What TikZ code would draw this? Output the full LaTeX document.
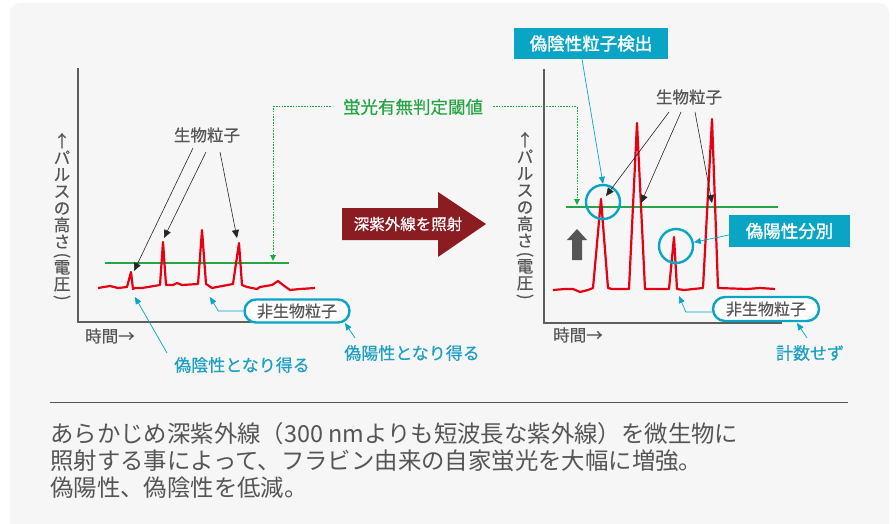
\documentclass[tikz,border=0pt]{standalone}
\usepackage{graphicx}
\usepackage{fontspec}
\newfontfamily\jp{Noto Sans CJK JP}
\newfontfamily\jpm[FakeBold=0.5]{Noto Sans CJK JP}
\newfontfamily\jpb[FakeBold=1.6]{Noto Sans CJK JP}
\usetikzlibrary{arrows.meta,calc}
\definecolor{bgc}{HTML}{F6F6F6}
\definecolor{cy}{HTML}{0AA5C5}
\definecolor{cyt}{HTML}{1EA0C3}
\definecolor{rd}{HTML}{E60012}
\definecolor{gn}{HTML}{26A546}
\definecolor{gnd}{HTML}{12B03C}
\definecolor{dr}{HTML}{8A1C22}
\definecolor{gy}{HTML}{555555}
\definecolor{ax}{HTML}{5E5E5E}
\newcommand\jpsz[1]{\fontsize{#1}{#1}\selectfont}
\newcommand\vparL{\rotatebox[origin=c]{-90}{(}}
\newcommand\vparR{\rotatebox[origin=c]{-90}{)}}
\begin{document}
\begin{tikzpicture}[x=1pt,y=-1pt,
 lbl/.style={font=\jpm\jpsz{16.5}, text=gy, inner sep=0},
 vlbl/.style={font=\jpm\fontsize{16.5}{16.8}\selectfont, text=gy, inner sep=0, align=center},
 cylbl/.style={font=\jpm\jpsz{17}, text=cyt, inner sep=0},
 cybox/.style={fill=cy, text=white, font=\jpb\jpsz{17.5}, inner sep=0},
 pillbox/.style={draw=cy, line width=2.4pt, fill=white, rounded corners=11.5pt, minimum width=105pt, minimum height=23pt, inner sep=0, font=\jpm\jpsz{16}, text=gy},
 ring/.style={circle, draw=cy, line width=2.4pt, minimum size=34pt, inner sep=0},
 blkarr/.style={draw=black!85, line width=0.6pt, -{Triangle[length=8pt,width=7pt]}},
 cyarr/.style={draw=cy, line width=0.7pt, -{Triangle[length=7pt,width=6pt]}},
 gnarr/.style={draw=gnd, line width=1pt, dash pattern=on 1.6pt off 1.2pt, -{Triangle[length=6pt,width=5.5pt]}},
 axis/.style={draw=ax, line width=1.4pt},
 sig/.style={draw=rd, line width=2.2pt, line join=round},
 thr/.style={draw=gn, line width=2pt},
 desc/.style={font=\jp\jpsz{23.4}, text=gy, anchor=base west, inner sep=0},
]
\useasboundingbox (0,0) rectangle (896,524);
\fill[white] (0,0) rectangle (896,524);
\begin{scope}
\clip (0,0) rectangle (896,524);
\fill[bgc, rounded corners=10pt] (10,3) rectangle (889,545);
\end{scope}

% ---------- left chart ----------
\draw[axis] (78,68) -- (78,322) -- (317,322);
\node[vlbl] (Ly) at (62,218) {↑\\パ\\ル\\ス\\の\\高\\さ\\[-4pt]\vparL\\[-4pt]電\\圧\\[-4pt]\vparR};
\node[lbl, anchor=west] (Lt) at (85,336) {時間→};
\draw[thr] (105,263) -- (289,263);
\draw[sig] (98,288) -- (110,286) -- (118,288) -- (127,287) -- (131,272) -- (133,289) -- (135,288) -- (142,288)
 -- (160,285) -- (163,242) -- (166,285) -- (173,285) -- (177,283) -- (182,285) -- (198,284) -- (202,230)
 -- (206,284) -- (212,288) -- (217,287) -- (233,284) -- (239,243) -- (242,285) -- (247,287) -- (257,289)
 -- (260,287) -- (272,285) -- (278,281) -- (283,285) -- (290,290) -- (300,289) -- (315,288);
\node[lbl] (Lbio) at (207,135) {生物粒子};
\coordinate (la1) at (193,148); \coordinate (lb1) at (134,271);
\coordinate (la2) at (206,152); \coordinate (lb2) at (164,238);
\coordinate (la3) at (220,152); \coordinate (lb3) at (237,238);
\draw[blkarr] (la1) -- (lb1);
\draw[blkarr] (la2) -- (lb2);
\draw[blkarr] (la3) -- (lb3);
\node[pillbox] (Lnb) at (297,311) {非生物粒子};
\coordinate (Lnbt) at (210,297);
\draw[cyarr] (Lnb.west) -- ++(-25,0) -- (Lnbt);
\node[cylbl] (Lfn) at (242,365) {偽陰性となり得る};
\coordinate (Lfns) at (167,353); \coordinate (Lfnt) at (135,297);
\draw[cyarr] (Lfns) -- (Lfnt);
\node[cylbl] (Lfp) at (412,353) {偽陽性となり得る};
\coordinate (Lfps) at (355,338); \coordinate (Lfpt) at (345,323);
\draw[cyarr] (Lfps) -- (Lfpt);

% ---------- threshold label ----------
\node[font=\jpm\jpsz{17.5}, text=gn, inner sep=0] (thrl) at (413,107) {蛍光有無判定閾値};
\coordinate (Lthr) at (273,261);
\coordinate (Rthr) at (577,205);
\draw[gnarr] ($(thrl.west)+(-12,0)$) -| (Lthr);
\draw[gnarr] ($(thrl.east)+(10,0)$) -| (Rthr);

% ---------- big arrow ----------
\fill[dr] (342,208) -- (438,208) -- (438,192) -- (486,224) -- (438,257) -- (438,240) -- (342,240) -- cycle;
\node[font=\jpm\jpsz{15.5}, text=white, inner sep=0] (uv) at (408,224) {深紫外線を照射};

% ---------- right chart ----------
\draw[axis] (544,69) -- (544,323) -- (782,323);
\node[vlbl] (Ry) at (525,217) {↑\\パ\\ル\\ス\\の\\高\\さ\\[-4pt]\vparL\\[-4pt]電\\圧\\[-4pt]\vparR};
\node[lbl, anchor=west] (Rt) at (553,335) {時間→};
\draw[thr] (566,207) -- (778,207);
\draw[sig] (553,290) -- (565,289) -- (573,289) -- (580,292) -- (588,290) -- (593,288) -- (601,199) -- (608,288)
 -- (612,289) -- (629,289) -- (637,123) -- (645,289) -- (669,289) -- (674,237) -- (677,289) -- (684,290)
 -- (703,288) -- (712,119) -- (718,288) -- (747,289) -- (760,288) -- (775,289);
\fill[gy] (572,260) -- (572,240) -- (567,240) -- (577,229) -- (587,240) -- (582,240) -- (582,260) -- cycle;
\node[ring] (c1) at (603,202) {};
\node[ring] (c2) at (676,246) {};
\node[lbl] (Rbio) at (689,97) {生物粒子};
\coordinate (ra1) at (669,112); \coordinate (rb1) at (606,196);
\coordinate (ra2) at (681,112); \coordinate (rb2) at (641,203);
\coordinate (ra3) at (695,112); \coordinate (rb3) at (712,203);
\draw[blkarr] (ra1) -- (rb1);
\draw[blkarr] (ra2) -- (rb2);
\draw[blkarr] (ra3) -- (rb3);
\node[cybox, minimum width=154pt, minimum height=31pt] (fn) at (591,43.5) {偽陰性粒子検出};
\draw[cyarr] ($(fn.south)+(-9,0)$) -- (c1.north);
\node[cybox, minimum width=121pt, minimum height=32pt] (fp) at (789.5,231) {偽陽性分別};
\draw[cyarr] ($(fp.west)+(0,4)$) -- (c2);
\node[pillbox, minimum width=106pt, minimum height=24pt, rounded corners=12pt] (Rnb) at (766,309) {非生物粒子};
\coordinate (Rnbt) at (679,296);
\draw[cyarr] ($(Rnb.west)+(0,3)$) -- ++(-26,0) -- (Rnbt);
\node[cylbl] (cnt) at (810,353) {計数せず};
\coordinate (cnts) at (807,338); \coordinate (cntt) at (797,323);
\draw[cyarr] (cnts) -- (cntt);

% ---------- bottom text ----------
\draw[gy, line width=1pt] (50,402) -- (848,402);
\node[desc] (d1) at (50,442) {あらかじめ深紫外線（300 nmよりも短波長な紫外線）を微生物に};
\node[desc] (d2) at (50,469) {照射する事によって、フラビン由来の自家蛍光を大幅に増強。};
\node[desc] (d3) at (50,496) {偽陽性、偽陰性を低減。};
\end{tikzpicture}
\end{document}
